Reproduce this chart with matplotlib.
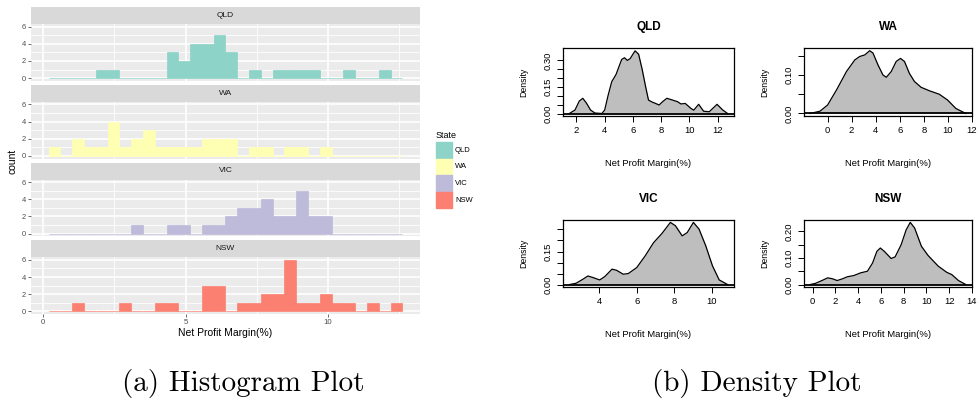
import numpy as np
import matplotlib.pyplot as plt
from matplotlib.patches import Rectangle

W, H = 977, 412

states = ["QLD", "WA", "VIC", "NSW"]
fills = ["#8DD3C7", "#FFFFB3", "#BEBADA", "#FB8072"]

# histogram: 30 bins of net profit margin (%)
bin_start = 0.2
bin_width = 0.4133
qld_counts = [0, 0, 0, 0, 1, 1, 0, 0, 0, 0, 3, 2, 4, 4, 5, 3, 0, 1, 0, 1, 1, 1, 1, 0, 0, 1, 0, 0, 1, 0]
wa_counts = [1, 0, 2, 1, 1, 4, 1, 2, 3, 1, 1, 1, 1, 2, 2, 2, 0, 1, 1, 0, 1, 1, 0, 1, 0, 0, 0, 0, 0, 0]
vic_counts = [0, 0, 0, 0, 0, 0, 0, 1, 0, 0, 1, 1, 0, 1, 1, 2, 3, 3, 4, 2, 2, 5, 2, 2, 0, 0, 0, 0, 0, 0]
nsw_counts = [0, 0, 1, 0, 0, 0, 1, 0, 0, 1, 1, 0, 0, 3, 3, 0, 1, 1, 2, 2, 6, 1, 1, 2, 1, 1, 0, 1, 0, 1]

# kernel density curves, read per state
qld_x = [1.5, 1.9, 2.2, 2.45, 2.7, 3.0, 3.3, 3.8, 4.0, 4.25, 4.5, 4.8, 5.2, 5.4, 5.6, 5.8, 6.15, 6.4,
         6.65, 6.9, 7.1, 7.35, 7.6, 7.85, 8.1, 8.4, 8.8, 9.15, 9.4, 9.7, 10.1, 10.3, 10.65, 11.0,
         11.4, 11.95, 12.35, 12.7]
qld_y = [0.0, 0.02, 0.07, 0.086, 0.06, 0.02, 0.003, 0.0, 0.02, 0.105, 0.18, 0.22, 0.305, 0.315,
         0.30, 0.31, 0.354, 0.335, 0.25, 0.15, 0.076, 0.065, 0.057, 0.048, 0.067, 0.086, 0.076,
         0.067, 0.054, 0.057, 0.029, 0.019, 0.052, 0.013, 0.01, 0.052, 0.02, 0.0]

wa_x = [-1.46, -0.63, 0.0, 0.74, 1.57, 2.26, 2.67, 3.09, 3.5, 3.77, 4.19, 4.6, 4.88, 5.29, 5.7,
        6.06, 6.39, 6.8, 7.22, 7.77, 8.46, 9.28, 9.97, 10.66, 11.49]
wa_y = [0.0, 0.006, 0.022, 0.061, 0.109, 0.139, 0.148, 0.152, 0.163, 0.157, 0.126, 0.10, 0.094,
        0.109, 0.135, 0.143, 0.135, 0.104, 0.083, 0.068, 0.059, 0.05, 0.035, 0.013, 0.0]

vic_x = [2.4, 2.76, 3.12, 3.39, 3.66, 4.02, 4.29, 4.68, 4.92, 5.28, 5.55, 6.0, 6.45, 6.9, 7.35,
         7.8, 8.07, 8.43, 8.7, 9.03, 9.33, 9.69, 10.05, 10.41, 10.86]
vic_y = [0.0, 0.006, 0.024, 0.039, 0.032, 0.021, 0.036, 0.07, 0.065, 0.047, 0.05, 0.077, 0.13,
         0.19, 0.232, 0.282, 0.267, 0.221, 0.236, 0.282, 0.252, 0.176, 0.085, 0.021, 0.0]

nsw_x = [-0.2, 0.24, 0.83, 1.33, 1.72, 2.16, 2.6, 3.05, 3.64, 4.23, 4.82, 5.27, 5.65, 5.95, 6.3,
         6.9, 7.25, 7.78, 8.22, 8.58, 8.96, 9.56, 10.15, 11.04, 11.78, 12.22, 12.81, 13.45]
nsw_y = [0.0, 0.004, 0.015, 0.025, 0.022, 0.015, 0.021, 0.029, 0.034, 0.044, 0.05, 0.081, 0.125,
         0.1375, 0.125, 0.098, 0.104, 0.15, 0.206, 0.234, 0.213, 0.144, 0.109, 0.069, 0.046,
         0.0375, 0.015, 0.0]

plt.rcParams["font.family"] = ["Liberation Sans", "DejaVu Sans"]

fig = plt.figure(figsize=(W / 100, H / 100), dpi=100)


def box(x0, y0, x1, y1):
    # pixel rectangle (top-left origin) -> figure fraction
    return [x0 / W, 1 - y1 / H, (x1 - x0) / W, (y1 - y0) / H]


# ---- (a) faceted histogram ----
counts = [qld_counts, wa_counts, vic_counts, nsw_counts]
edges = bin_start + bin_width * np.arange(len(qld_counts) + 1)
strip_h, panel_h, gap = 17, 56.75, 4
left, right = 31, 420
for i, (state, col, cnt) in enumerate(zip(states, fills, counts)):
    top = 7 + i * (strip_h + panel_h + gap)
    sax = fig.add_axes(box(left, top, right, top + strip_h))
    sax.set_facecolor("#D9D9D9")
    sax.set_xticks([])
    sax.set_yticks([])
    for s in sax.spines.values():
        s.set_visible(False)
    sax.text(0.5, 0.5, state, ha="center", va="center", fontsize=6, color="#1A1A1A",
             transform=sax.transAxes)

    ax = fig.add_axes(box(left, top + strip_h, right, top + strip_h + panel_h))
    ax.set_facecolor("#EBEBEB")
    ax.set_xlim(-0.42, 13.22)
    ax.set_ylim(-0.3, 6.3)
    for v in [2.5, 7.5, 12.5]:
        ax.axvline(v, color="white", lw=0.6, zorder=0)
    for v in [1, 3, 5]:
        ax.axhline(v, color="white", lw=0.6, zorder=0)
    for v in [0, 5, 10]:
        ax.axvline(v, color="white", lw=1.2, zorder=0)
    for v in [0, 2, 4, 6]:
        ax.axhline(v, color="white", lw=1.2, zorder=0)
    ax.bar(edges[:-1], cnt, width=bin_width, align="edge", color=col, edgecolor=col,
           lw=0.5, zorder=2)
    for s in ax.spines.values():
        s.set_visible(False)
    ax.set_yticks([0, 2, 4, 6])
    ax.tick_params(axis="y", length=2, width=0.5, color="#333333", labelsize=5.4,
                   labelcolor="#4D4D4D", pad=1.5)
    if i == 3:
        ax.set_xticks([0, 5, 10])
        ax.tick_params(axis="x", length=2, width=0.5, color="#333333", labelsize=5.6,
                       labelcolor="#4D4D4D", pad=1.5)
        ax.set_xlabel("Net Profit Margin(%)", fontsize=7.5, labelpad=1.5)
    else:
        ax.set_xticks([])

fig.text(13 / W, 1 - 161 / H, "count", rotation=90, ha="center", va="center", fontsize=7.5)

# legend
fig.text(436 / W, 1 - 135 / H, "State", ha="left", va="center", fontsize=6.5)
for j, (state, col) in enumerate(zip(states, fills)):
    ky = 142 + j * 16.7
    fig.patches.append(Rectangle((436 / W, 1 - (ky + 16) / H), 16 / W, 16 / H,
                                 transform=fig.transFigure, color=col))
    fig.text(455 / W, 1 - (ky + 8) / H, state, ha="left", va="center", fontsize=5.5)

# ---- (b) density plots ----
dens = [
    ("QLD", qld_x, qld_y, box(563, 48, 734, 116), (1.05, 13.15), (-0.014, 0.37),
     [2, 4, 6, 8, 10, 12], [0, 0.05, 0.10, 0.15, 0.20, 0.25, 0.30],
     ["0.00", "", "", "0.15", "", "", "0.30"]),
    ("WA", wa_x, wa_y, box(804, 48, 972, 116), (-1.96, 12.0), (-0.0065, 0.17),
     [0, 2, 4, 6, 8, 10, 12], [0, 0.05, 0.10, 0.15], ["0.00", "", "0.10", ""]),
    ("VIC", vic_x, vic_y, box(563, 220, 734, 287), (2.06, 11.2), (-0.011, 0.293),
     [4, 6, 8, 10], [0, 0.05, 0.10, 0.15, 0.20, 0.25], ["0.00", "", "", "0.15", "", ""]),
    ("NSW", nsw_x, nsw_y, box(804, 220, 972, 287), (-0.75, 14.0), (-0.0094, 0.243),
     [0, 2, 4, 6, 8, 10, 12, 14], [0, 0.05, 0.10, 0.15, 0.20],
     ["0.00", "", "0.10", "", "0.20"]),
]
for name, dx, dy, rect, xl, yl, xt, yt, ytl in dens:
    ax = fig.add_axes(rect)
    ax.fill_between(dx, dy, color="#BEBEBE", lw=0)
    ax.plot(dx, dy, color="black", lw=0.9, solid_joinstyle="round")
    ax.axhline(0, color="black", lw=1.3)
    ax.set_xlim(*xl)
    ax.set_ylim(*yl)
    ax.set_xticks(xt)
    ax.set_yticks(yt)
    ax.set_yticklabels(ytl, rotation=90, va="center")
    for s in ax.spines.values():
        s.set_linewidth(0.9)
    ax.tick_params(direction="out", length=4.3, width=0.7, labelsize=6.8, pad=3)
    ax.set_title(name, fontsize=8.5, fontweight="bold", pad=13)
    ax.set_xlabel("Net Profit Margin(%)", fontsize=6.8, labelpad=17)
    ax.set_ylabel("Density", fontsize=6.3, labelpad=11)

# captions
fig.text(243 / W, 1 - 383 / H, "(a) Histogram Plot", ha="center", va="center",
         fontsize=21, family="cmr10")
fig.text(757 / W, 1 - 383 / H, "(b) Density Plot", ha="center", va="center",
         fontsize=21, family="cmr10")

fig.savefig("out.png", dpi=100)
